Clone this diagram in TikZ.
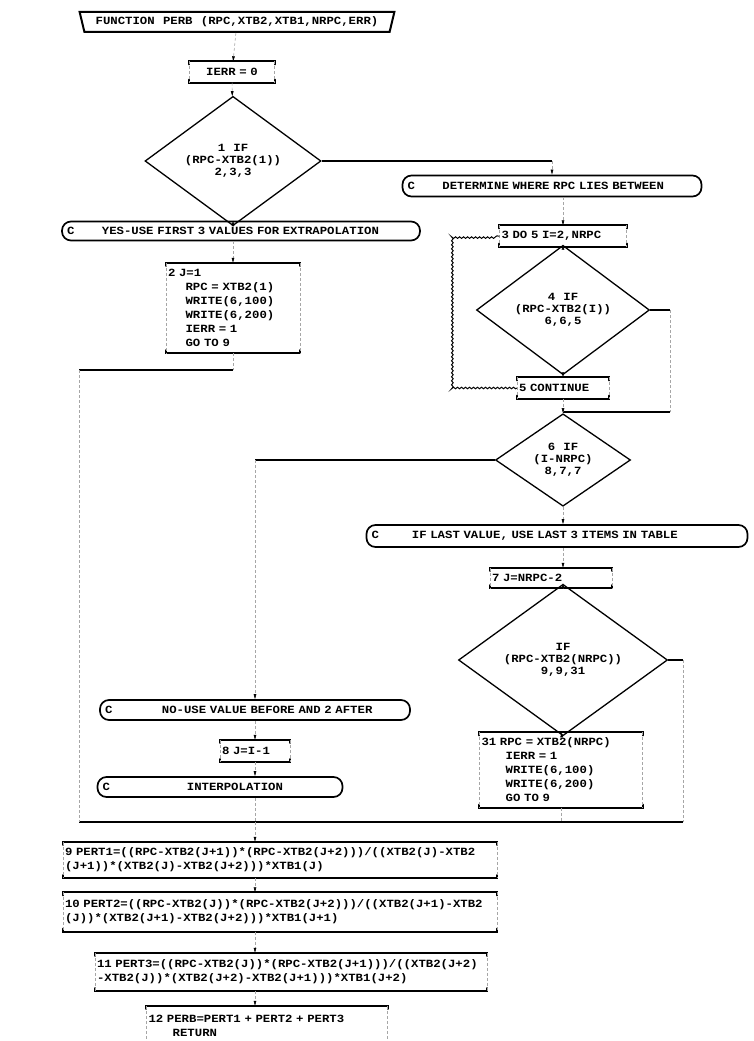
\documentclass[tikz,border=0pt]{standalone}
\usepackage{fontspec}
\newfontfamily\flowtt[FakeStretch=1.12, WordSpace={1.12,0,0}]{Liberation Mono}
\usetikzlibrary{shapes.geometric,arrows.meta,decorations.pathmorphing}

\newcommand{\flowfont}{\fontsize{11}{14}\selectfont\flowtt\bfseries}
\newcommand{\askfont}{\fontsize{11}{12}\selectfont\flowtt\bfseries}

\begin{document}
\begin{tikzpicture}[x=1pt, y=-1pt,
    procbox/.style={inner sep=2pt, align=left, font=\flowfont},
    cmtbox/.style={draw, line width=1.7pt, rounded corners=9pt, inner xsep=5pt, inner ysep=2pt, align=left, font=\flowfont},
    decide/.style={diamond, draw, line width=1.3pt, inner sep=0pt, align=center, font=\askfont},
    edge/.style={line width=2.2pt, line cap=round},
    wire/.style={line width=1.6pt},
    faded/.style={black!35, line width=0.6pt, densely dashed},
    tick/.style={-{Triangle[length=5pt, width=2.6pt, color=black]}},
    loopline/.style={line width=1pt, decorate, decoration={snake, amplitude=0.8pt, segment length=4pt}}]
\useasboundingbox (0,0) rectangle (754,1041);

\node[trapezium, trapezium stretches=true, shape border rotate=180,
      trapezium left angle=70, trapezium right angle=70, draw, line width=2pt,
      minimum width=315pt, minimum height=20pt, inner sep=1pt, font=\flowfont]
      (title) at (237,22) {FUNCTION PERB (RPC,XTB2,XTB1,NRPC,ERR)};
\node[procbox, align=center, text width=81pt, minimum height=21pt] (ierr) at (232,72) {IERR = 0};
\node[decide, minimum width=176pt, minimum height=102pt] (d1) at (233,161) {1 IF\\(RPC-XTB2(1))\\2,3,3};

% right branch, search loop
\node[cmtbox, text width=289pt, minimum height=21pt] (cR) at (552,186) {C\hspace{2.5em}DETERMINE WHERE RPC LIES BETWEEN};
\node[procbox, text width=123pt, minimum height=21pt] (b3) at (563,236) {3 DO 5 I=2,NRPC};
\node[decide, minimum width=173pt, minimum height=97pt] (d4) at (563,310) {4 IF\\(RPC-XTB2(I))\\6,6,5};
\node[procbox, text width=88pt, minimum height=21pt] (b5) at (563,388) {5 CONTINUE};
\node[decide, minimum width=135pt, minimum height=77pt] (d6) at (563,460) {6 IF\\(I-NRPC)\\8,7,7};
\node[cmtbox, text width=371pt, minimum height=22pt] (cLast) at (557,536) {C\hspace{3em}IF LAST VALUE, USE LAST 3 ITEMS IN TABLE};
\node[procbox, text width=118pt, minimum height=20pt] (b7) at (551,578) {7 J=NRPC-2};
\node[decide, minimum width=209pt, minimum height=113pt] (d9) at (563,660) {IF\\(RPC-XTB2(NRPC))\\9,9,31};
\node[procbox, text width=159pt, minimum height=75pt] (b31) at (561,770)
      {31 RPC = XTB2(NRPC)\\\hspace*{2.2em}IERR = 1\\\hspace*{2.2em}WRITE(6,100)\\\hspace*{2.2em}WRITE(6,200)\\\hspace*{2.2em}GO TO 9};

% left branch
\node[cmtbox, text width=348pt, minimum height=19pt] (cL) at (241,231) {C\hspace{2.5em}YES-USE FIRST 3 VALUES FOR EXTRAPOLATION};
\node[procbox, text width=130pt, minimum height=90pt] (b2) at (233,308)
      {2 J=1\\\hspace*{1.6em}RPC = XTB2(1)\\\hspace*{1.6em}WRITE(6,100)\\\hspace*{1.6em}WRITE(6,200)\\\hspace*{1.6em}IERR = 1\\\hspace*{1.6em}GO TO 9};
\node[cmtbox, text width=300pt, minimum height=20pt] (cNo) at (255,710) {C\hspace{4.5em}NO-USE VALUE BEFORE AND 2 AFTER};
\node[procbox, text width=66pt, minimum height=22pt] (b8) at (255,751) {8 J=I-1};
\node[cmtbox, text width=235pt, minimum height=20pt] (cInt) at (220,787) {C\hspace{7em}INTERPOLATION};

% formula boxes
\node[procbox, text width=430pt, minimum height=36pt] (b9) at (280,860)
      {9 PERT1=((RPC-XTB2(J+1))*(RPC-XTB2(J+2)))/((XTB2(J)-XTB2\\(J+1))*(XTB2(J)-XTB2(J+2)))*XTB1(J)};
\node[procbox, text width=430pt, minimum height=39pt] (b10) at (280,912)
      {10 PERT2=((RPC-XTB2(J))*(RPC-XTB2(J+2)))/((XTB2(J+1)-XTB2\\(J))*(XTB2(J+1)-XTB2(J+2)))*XTB1(J+1)};
\node[procbox, text width=388pt, minimum height=38pt] (b11) at (291,972)
      {11 PERT3=((RPC-XTB2(J))*(RPC-XTB2(J+1)))/((XTB2(J+2)\\-XTB2(J))*(XTB2(J+2)-XTB2(J+1)))*XTB1(J+2)};
\node[procbox, text width=237pt, minimum height=40pt] (b12) at (267,1026)
      {12 PERB=PERT1 + PERT2 + PERT3\\\hspace*{2.2em}RETURN};

\foreach \b in {ierr,b2,b3,b5,b7,b31,b8,b9,b10,b11,b12} {
  \draw[edge] ([yshift=-3pt]\b.north west) -- (\b.north west) -- (\b.north east) -- ([yshift=-3pt]\b.north east);
  \draw[edge] ([yshift=3pt]\b.south west) -- (\b.south west) -- (\b.south east) -- ([yshift=3pt]\b.south east);
  \draw[faded] (\b.north west) -- (\b.south west) (\b.north east) -- (\b.south east);
}

\coordinate (lp) at (452,236);
\coordinate (j4) at (670,412);
\coordinate (k2) at (79,370);
\coordinate (busL) at (79,822);
\coordinate (busR) at (683,822);
\coordinate (bus) at (255,822);

\draw[faded, tick] (title) -- (ierr);
\draw[faded, tick] (ierr) -- (d1);
\draw[faded, tick] (d1.south) -- (d1.south |- cL.north);
\draw[faded, tick] (b2.north |- cL.south) -- (b2.north);
\draw[wire] (d1.east) -- (d1.east -| cR.north);
\draw[faded, tick] (d1.east -| cR.north) -- (cR.north);
\draw[faded, tick] (b3.north |- cR.south) -- (b3.north);
\draw[faded, tick] (b3) -- (d4);
\draw[faded, tick] (d4) -- (b5);
\draw[loopline] (b5.west) -| (lp) -- (b3.west);
\draw[wire] (d4.east) -- (d4.east -| j4);
\draw[faded] (d4.east -| j4) -- (j4);
\draw[wire] (j4) -- (j4 -| d6.north);
\draw[faded] (b5) -- (b5.south |- j4);
\draw[faded, tick] (j4 -| d6.north) -- (d6.north);
\draw[faded, tick] (d6.south) -- (d6.south |- cLast.north);
\draw[faded, tick] (d6.south |- cLast.south) -- (d6.south |- b7.north);
\draw[faded, tick] (d9.north |- b7.south) -- (d9.north);
\draw[faded, tick] (d9) -- (b31);
\draw[wire] (d9.east) -- (d9.east -| busR);
\draw[faded] (d9.east -| busR) -- (busR);
\draw[faded] (b31.south) -- (b31.south |- busR);
\draw[wire] (busL) -- (busR);
\draw[wire] (d6.west) -- (d6.west -| cNo.north);
\draw[faded, tick] (d6.west -| cNo.north) -- (cNo.north);
\draw[faded, tick] (cNo) -- (b8);
\draw[faded, tick] (b8.south) -- (b8.south |- cInt.north);
\draw[faded] (b8.south |- cInt.south) -- (b8.south |- busL);
\draw[faded] (b2.south) -- (b2.south |- k2);
\draw[wire] (b2.south |- k2) -- (k2);
\draw[faded] (k2) -- (busL);
\draw[faded, tick] (bus) -- (bus |- b9.north);
\draw[faded, tick] (bus |- b9.south) -- (bus |- b10.north);
\draw[faded, tick] (bus |- b10.south) -- (bus |- b11.north);
\draw[faded, tick] (bus |- b11.south) -- (bus |- b12.north);
\end{tikzpicture}
\end{document}
